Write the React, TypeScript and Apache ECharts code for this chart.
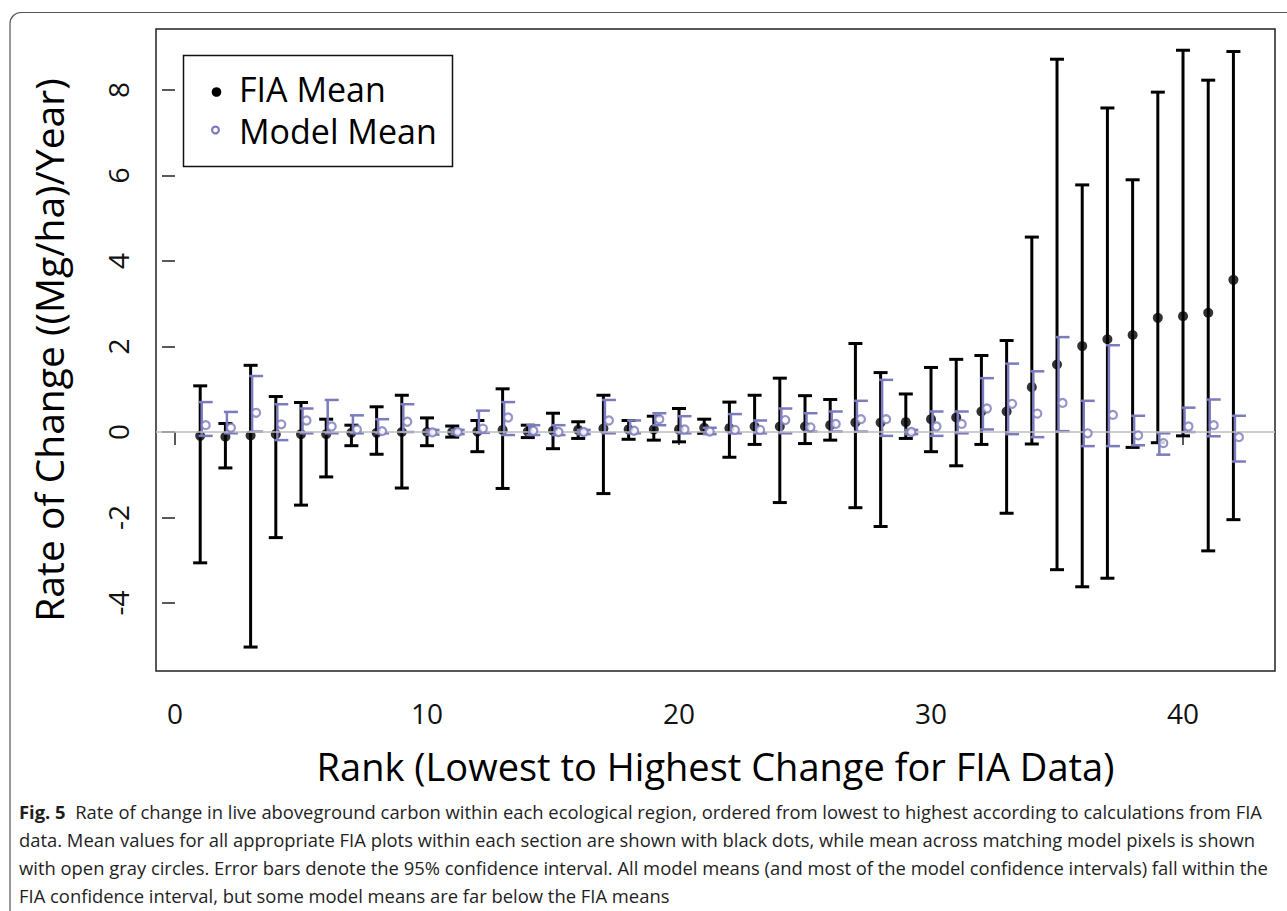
import React, { useEffect, useRef } from "react";
import * as echarts from "echarts";

const ranks = [1,2,3,4,5,6,7,8,9,10,11,12,13,14,15,16,17,18,19,20,21,22,23,24,25,26,27,28,29,30,31,32,33,34,35,36,37,38,39,40,41,42];
const fiaMean = [-0.09,-0.11,-0.08,-0.05,-0.05,-0.05,-0.02,-0.02,0.0,0.0,0.0,0.01,0.05,0.01,0.03,0.05,0.08,0.06,0.06,0.06,0.1,0.09,0.13,0.13,0.13,0.16,0.22,0.22,0.23,0.3,0.34,0.48,0.48,1.05,1.58,2.01,2.17,2.27,2.67,2.71,2.79,3.56];
const fiaLow = [-3.06,-0.84,-5.03,-2.47,-1.71,-1.05,-0.32,-0.52,-1.31,-0.32,-0.12,-0.46,-1.32,-0.13,-0.39,-0.15,-1.44,-0.17,-0.19,-0.23,-0.03,-0.59,-0.29,-1.65,-0.27,-0.19,-1.77,-2.21,-0.15,-0.46,-0.79,-0.29,-1.9,-0.28,-3.22,-3.62,-3.42,-0.36,-0.25,-0.09,-2.78,-2.05];
const fiaHigh = [1.08,0.2,1.56,0.83,0.69,0.3,0.16,0.59,0.86,0.33,0.14,0.27,1.01,0.16,0.44,0.24,0.86,0.27,0.37,0.55,0.3,0.7,0.86,1.26,0.85,0.76,2.07,1.39,0.89,1.51,1.7,1.79,2.14,4.56,8.72,5.78,7.58,5.9,7.95,8.93,8.23,8.9];
const modelMean = [0.16,0.1,0.45,0.18,0.27,0.13,0.06,0.02,0.24,-0.01,0.0,0.08,0.34,0.03,0.0,0.0,0.27,0.03,0.3,0.06,0.01,0.05,0.05,0.28,0.11,0.19,0.3,0.3,0.0,0.13,0.19,0.55,0.66,0.43,0.68,-0.03,0.4,-0.08,-0.26,0.13,0.16,-0.12];
const modelLow = [-0.09,-0.03,0.01,-0.19,-0.03,-0.03,-0.03,-0.03,0.0,-0.06,-0.05,-0.02,-0.07,-0.07,-0.07,-0.05,-0.03,-0.03,0.16,-0.03,-0.05,-0.03,-0.03,-0.03,0.01,0.01,0.01,-0.09,-0.05,-0.09,-0.03,0.06,-0.05,-0.12,0.02,-0.33,-0.33,-0.31,-0.53,0.0,-0.1,-0.69];
const modelHigh = [0.7,0.47,1.31,0.65,0.55,0.75,0.39,0.3,0.65,0.05,0.05,0.5,0.7,0.16,0.16,0.05,0.75,0.27,0.44,0.37,0.1,0.42,0.27,0.55,0.44,0.48,0.73,1.22,0.05,0.48,0.48,1.26,1.6,1.42,2.22,0.73,2.03,0.38,-0.03,0.57,0.76,0.38];

const xTicks = [0, 10, 20, 30, 40];
const yTicks = [-4, -2, 0, 2, 4, 6, 8];

const captionLines = [
  "{b|Fig. 5}  Rate of change in live aboveground carbon within each ecological region, ordered from lowest to highest according to calculations from FIA",
  "data. Mean values for all appropriate FIA plots within each section are shown with black dots, while mean across matching model pixels is shown",
  "with open gray circles. Error bars denote the 95% confidence interval. All model means (and most of the model confidence intervals) fall within the",
  "FIA confidence interval, but some model means are far below the FIA means",
];

const LAV = "#7b7bbd";
const FONT = "'Open Sans', sans-serif";
const CAP = 18.4;

function barRenderer(lineOff: number, capL: number, capR: number, color: string, lw: number) {
  return (params: any, api: any) => {
    const x = api.value(0);
    const lo = api.coord([x, api.value(1)]);
    const hi = api.coord([x, api.value(2)]);
    const cx = lo[0] + lineOff;
    const style = { stroke: color, lineWidth: lw };
    return {
      type: "group",
      children: [
        { type: "line", shape: { x1: cx, y1: hi[1], x2: cx, y2: lo[1] }, style },
        { type: "line", shape: { x1: lo[0] + capL, y1: hi[1], x2: lo[0] + capR, y2: hi[1] }, style },
        { type: "line", shape: { x1: lo[0] + capL, y1: lo[1], x2: lo[0] + capR, y2: lo[1] }, style },
      ],
    };
  };
}

export default function App() {
  const ref = useRef<HTMLDivElement>(null);
  useEffect(() => {
    document.body.style.margin = "0";
    const chart = echarts.init(ref.current!, null, { renderer: "svg" });
    const fiaBars = ranks.map((r, i) => [r, fiaLow[i], fiaHigh[i]]);
    const modelBars = ranks.map((r, i) => [r, modelLow[i], modelHigh[i]]);
    const fiaPts = ranks.map((r, i) => [r, fiaMean[i]]);
    const modelPts = ranks.map((r, i) => [r, modelMean[i]]);

    const captionGraphics = captionLines.map((t, i) => ({
      type: "text",
      x: 19,
      y: 811 + i * 28,
      style: {
        text: t,
        font: `${CAP}px ${FONT}`,
        fill: "#1e1e1e",
        verticalAlign: "middle",
        rich: { b: { fontWeight: "bold", fontSize: CAP, fontFamily: FONT, fill: "#1e1e1e" } },
      },
    }));

    chart.setOption({
      animation: false,
      backgroundColor: "#fff",
      grid: {
        left: 156, top: 29, width: 1119, height: 642,
        show: true, borderColor: "#222", borderWidth: 1.5, backgroundColor: "transparent",
      },
      xAxis: {
        type: "value",
        min: -0.754, max: 43.65,
        name: "Rank (Lowest to Highest Change for FIA Data)",
        nameLocation: "middle",
        nameGap: 76,
        nameTextStyle: { fontFamily: FONT, fontSize: 38, color: "#000" },
        axisLine: { show: false },
        splitLine: { show: false },
        axisTick: { show: true, customValues: xTicks, length: 13, lineStyle: { color: "#222", width: 1.5 } },
        axisLabel: { customValues: xTicks, fontFamily: FONT, fontSize: 28, color: "#111", margin: 28 },
      },
      yAxis: {
        type: "value",
        min: -5.59, max: 9.427,
        name: "Rate of Change ((Mg/ha)/Year)",
        nameLocation: "middle",
        nameRotate: 90,
        nameGap: 88,
        nameTextStyle: { fontFamily: FONT, fontSize: 39, color: "#000" },
        axisLine: { show: false },
        splitLine: { show: false },
        axisTick: { show: true, customValues: yTicks, length: 13, lineStyle: { color: "#222", width: 1.5 } },
        axisLabel: { customValues: yTicks, rotate: 90, fontFamily: FONT, fontSize: 28, color: "#111", margin: 24 },
      },
      series: [
        {
          type: "scatter", data: [], z: 1, silent: true,
          markLine: {
            silent: true, symbol: "none", label: { show: false },
            lineStyle: { color: "#bdbdbd", width: 1.5, type: "solid" },
            data: [{ yAxis: 0 }],
          },
        },
        { type: "custom", name: "FIA CI", data: fiaBars, renderItem: barRenderer(0, -7, 7, "#000", 3), z: 2, silent: true },
        { type: "scatter", name: "FIA Mean", data: fiaPts, symbol: "circle", symbolSize: 10, itemStyle: { color: "#000" }, z: 3, silent: true },
        { type: "custom", name: "Model CI", data: modelBars, renderItem: barRenderer(1.5, -1.5, 12.5, LAV, 2.5), z: 4, silent: true },
        {
          type: "scatter", name: "Model Mean", data: modelPts, symbol: "circle", symbolSize: 8, symbolOffset: [5.5, 0],
          itemStyle: { color: "#fff", borderColor: LAV, borderWidth: 2.2 }, z: 5, silent: true,
        },
      ],
      graphic: [
        { type: "rect", shape: { x: 10, y: 12.5, width: 1400, height: 1000, r: 11 }, style: { fill: "none", stroke: "#555", lineWidth: 1.2 }, silent: true },
        { type: "rect", shape: { x: 183.5, y: 55.5, width: 269, height: 111 }, style: { fill: "#fff", stroke: "#111", lineWidth: 1.5 }, z: 10 },
        { type: "circle", shape: { cx: 216.5, cy: 92, r: 4.8 }, style: { fill: "#000" }, z: 11 },
        { type: "text", x: 239, y: 89, style: { text: "FIA Mean", font: `34px ${FONT}`, fill: "#000", verticalAlign: "middle" }, z: 11 },
        { type: "circle", shape: { cx: 215.5, cy: 130, r: 3.4 }, style: { fill: "#fff", stroke: LAV, lineWidth: 2.2 }, z: 11 },
        { type: "text", x: 239, y: 131, style: { text: "Model Mean", font: `34px ${FONT}`, fill: "#000", verticalAlign: "middle" }, z: 11 },
        ...captionGraphics,
      ],
    });
    return () => chart.dispose();
  }, []);
  return <div ref={ref} style={{ width: 1287, height: 911 }} />;
}
